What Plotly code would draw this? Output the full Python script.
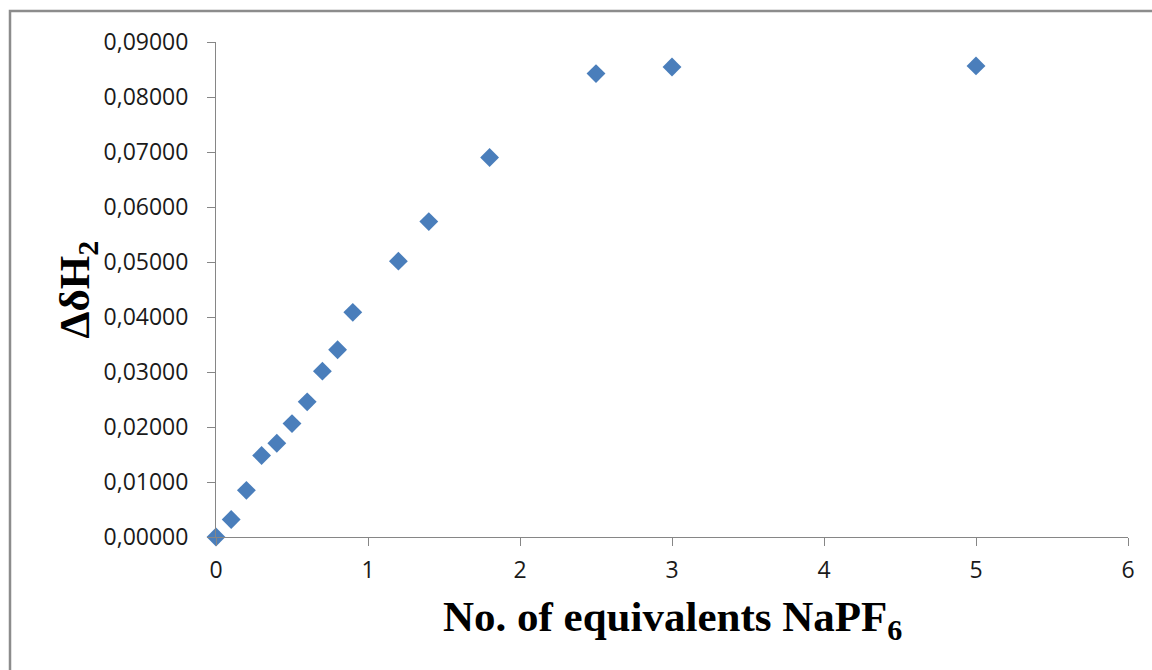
import plotly.graph_objects as go

# NaPF6 titration: chemical-shift change of H2 versus equivalents added
equivalents = [0.0, 0.1, 0.2, 0.3, 0.4, 0.5, 0.6, 0.7, 0.8, 0.9, 1.2, 1.4, 1.8, 2.5, 3.0, 5.0]
delta_shift = [0.00000, 0.00318, 0.00848, 0.01482, 0.01705, 0.02062, 0.02458, 0.03015,
               0.03405, 0.04085, 0.05015, 0.05735, 0.06900, 0.08425, 0.08545, 0.08565]

x_ticks = [0, 1, 2, 3, 4, 5, 6]
y_ticks = [0.0, 0.01, 0.02, 0.03, 0.04, 0.05, 0.06, 0.07, 0.08, 0.09]

W, H = 1152, 670
ML, MR, MT, MB = 216, 24, 42, 133
PW, PH = W - ML - MR, H - MT - MB

AXIS_GREY = "#868686"
MARKER_BLUE = "#4A7EBB"

fig = go.Figure(
    go.Scatter(
        x=equivalents,
        y=delta_shift,
        mode="markers",
        marker=dict(symbol="diamond", size=14.5, color=MARKER_BLUE,
                    line=dict(width=0)),
        cliponaxis=False,
        showlegend=False,
    )
)

tick_font = dict(family="Open Sans", size=23, color="#1a1a1a")

fig.update_xaxes(
    range=[0, 6], tickvals=x_ticks, ticks="outside", ticklen=8, tickwidth=1,
    tickcolor=AXIS_GREY, showline=True, linecolor=AXIS_GREY, linewidth=1,
    showgrid=False, zeroline=False, tickfont=tick_font, ticklabelstandoff=4,
)
fig.update_yaxes(
    range=[0, 0.09], tickvals=y_ticks, tickformat=".5f", ticks="outside",
    ticklen=8, tickwidth=1, tickcolor=AXIS_GREY, showline=True,
    linecolor=AXIS_GREY, linewidth=1, showgrid=False, zeroline=False,
    tickfont=tick_font, ticklabelstandoff=14,
)

title_font = dict(family="Liberation Serif", size=43, color="black", weight="bold")


def px_to_paper_x(px):
    return (px - ML) / PW


def px_to_paper_y(py):
    return (H - MB - py) / PH


fig.add_annotation(
    text="No. of equivalents NaPF<sub>6</sub>", showarrow=False,
    xref="paper", yref="paper", x=0.5, y=px_to_paper_y(620),
    xanchor="center", yanchor="middle", font=title_font,
)
fig.add_annotation(
    text="ΔδH<sub>2</sub>", showarrow=False, textangle=-90,
    xref="paper", yref="paper", x=px_to_paper_x(77), y=0.5,
    xanchor="center", yanchor="middle", font=title_font,
)

# chart-area frame (runs off the right and bottom edges)
fig.add_shape(
    type="rect", xref="paper", yref="paper",
    x0=px_to_paper_x(10), y0=px_to_paper_y(H + 20),
    x1=px_to_paper_x(W + 20), y1=px_to_paper_y(11),
    line=dict(color="#8c8c8c", width=2.5), fillcolor="rgba(0,0,0,0)",
    layer="below",
)

fig.update_layout(
    width=W, height=H,
    margin=dict(l=ML, r=MR, t=MT, b=MB),
    paper_bgcolor="white", plot_bgcolor="white",
    separators=",.",
)

fig.write_html("out.html")
